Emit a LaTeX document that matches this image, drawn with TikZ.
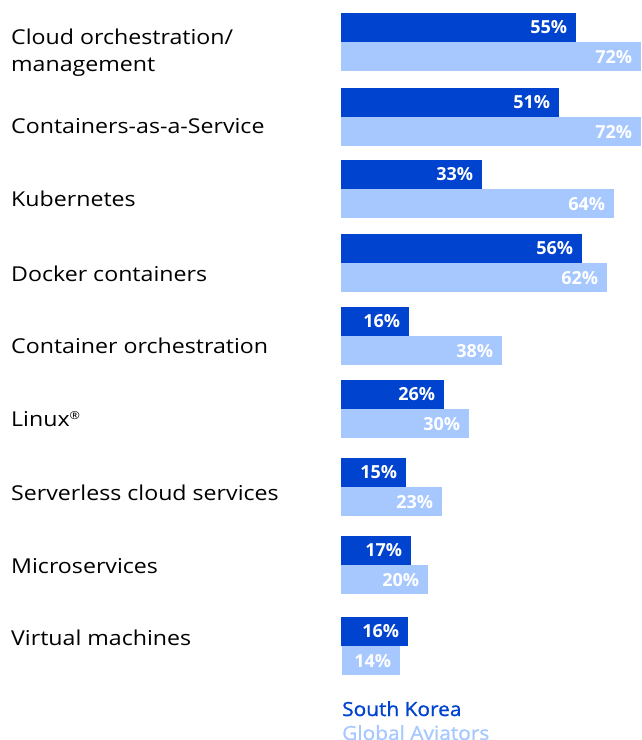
\documentclass[tikz,border=0pt]{standalone}
\usepackage{fontspec}
\setmainfont{Open Sans}
\newfontfamily\itemfont[FakeStretch=1.13]{Open Sans}
\newfontfamily\legendfont[FakeStretch=1.07,FakeBold=1]{Open Sans}
\usetikzlibrary{positioning}

\definecolor{krblue}{HTML}{0043CE}
\definecolor{glblue}{HTML}{A6C8FF}

\begin{document}
\begin{tikzpicture}[x=1pt,y=-1pt]

  \tikzstyle{item}=[anchor=base west,inner sep=0pt,align=left,
    font=\itemfont\fontsize{20.5}{27}\selectfont]

  \tikzstyle{korea}=[rectangle,fill=krblue,text=white,anchor=west,
    minimum height=29pt,inner sep=0pt,inner xsep=9pt,align=right,
    font=\fontsize{18}{18}\selectfont\bfseries]

  \tikzstyle{global}=[korea,fill=glblue]

  \tikzstyle{legend}=[anchor=base west,inner sep=0pt,
    font=\legendfont\fontsize{19.5}{19.5}\selectfont]

  \useasboundingbox (0,0) rectangle (641,740);

  %% labels
  \node  (l1) at (11,28.5) [item,anchor=north west]
         {Cloud orchestration/\\management};
  \node  (l2) at (11,133)  [item] {Containers-as-a-Service};
  \node  (l3) at (11,206)  [item] {Kubernetes};
  \node  (l4) at (11,281)  [item] {Docker containers};
  \node  (l5) at (11,353)  [item] {Container orchestration};
  \node  (l6) at (11,426)  [item]
         {Linux\raisebox{7pt}{\fontsize{11}{11}\selectfont\textregistered}};
  \node  (l7) at (11,500)  [item] {Serverless cloud services};
  \node  (l8) at (11,573)  [item] {Microservices};
  \node  (l9) at (11,645)  [item] {Virtual machines};

  %% South Korea bars
  \node  (k1) at (341,27.5)  [korea,text width=217pt] {55\%};
  \node  (k2) at (341,102.5) [korea,text width=200pt] {51\%};
  \node  (k3) at (341,174.5) [korea,text width=123pt] {33\%};
  \node  (k4) at (341,248.5) [korea,text width=223pt] {56\%};
  \node  (k5) at (341,321.5) [korea,text width=50pt]  {16\%};
  \node  (k6) at (341,394.5) [korea,text width=85pt]  {26\%};
  \node  (k7) at (341,472.5) [korea,text width=47pt]  {15\%};
  \node  (k8) at (341,550.5) [korea,text width=52pt]  {17\%};
  \node  (k9) at (341,631.5) [korea,text width=49pt]  {16\%};

  %% Global Aviators bars
  \node  (g1) [global,text width=282pt,below right=0pt and 0pt of k1.south west] {72\%};
  \node  (g2) [global,text width=282pt,below right=0pt and 0pt of k2.south west] {72\%};
  \node  (g3) [global,text width=255pt,below right=0pt and 0pt of k3.south west] {64\%};
  \node  (g4) [global,text width=248pt,below right=0pt and 0pt of k4.south west] {62\%};
  \node  (g5) [global,text width=143pt,below right=0pt and 0pt of k5.south west] {38\%};
  \node  (g6) [global,text width=110pt,below right=0pt and 0pt of k6.south west] {30\%};
  \node  (g7) [global,text width=83pt, below right=0pt and 0pt of k7.south west] {23\%};
  \node  (g8) [global,text width=69pt, below right=0pt and 0pt of k8.south west] {20\%};
  \node  (g9) [global,text width=40pt, below right=0pt and 1pt of k9.south west] {14\%};

  %% legend
  \node  (sk) at (342,716) [legend,text=krblue] {South Korea};
  \node  (ga) at (342,740) [legend,text=glblue] {Global Aviators};

\end{tikzpicture}
\end{document}
